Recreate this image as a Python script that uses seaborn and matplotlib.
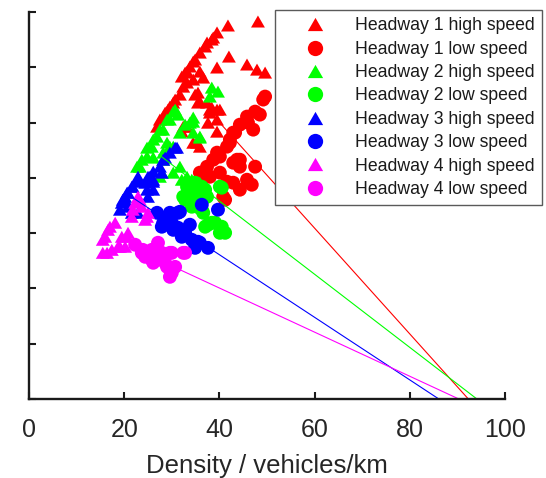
import matplotlib
matplotlib.use("Agg")
import matplotlib.pyplot as plt
import numpy as np
import pandas as pd
import seaborn as sns

# Density (vehicles/km) and flow (vehicles/h) per headway and speed regime
h1_high_k = [41.8, 48.1, 39.5, 38.7, 37.4, 35.9, 42.0, 34.5, 39.5, 45.8, 47.9, 49.6, 33.2,
             32.1, 35.9, 36.6, 32.4, 31.7, 30.7, 29.6, 28.6, 27.5, 26.9, 34.9, 35.9, 38.0,
             39.5, 37.6, 39.5, 35.3, 35.9, 32.1, 33.2, 38.4, 37.0, 34.9, 33.8, 32.8, 33.2,
             35.5, 35.5, 38.4, 40.1, 34.5, 30.3, 29.2, 28.2, 38.0, 39.5, 32.4, 34.5, 37.4]
h1_high_q = [3378, 3414, 3315, 3269, 3224, 3133, 3097, 3052, 2998, 3025, 2979, 2952, 2961,
             2916, 2961, 2907, 2825, 2753, 2708, 2644, 2590, 2527, 2463, 2753, 2690, 2617,
             2617, 2499, 2418, 2318, 2282, 2418, 2463, 3251, 3188, 3070, 3007, 2952, 2862,
             2771, 2681, 2635, 2617, 2889, 2681, 2617, 2554, 2590, 2527, 2463, 2318, 2681]

h1_low_k = [49.6, 49.2, 47.5, 48.5, 46.0, 47.1, 44.3, 42.9, 42.2, 41.6, 47.5, 39.5, 38.7,
            37.4, 35.9, 42.9, 44.3, 45.8, 46.8, 42.9, 44.3, 41.6, 41.2, 38.0, 40.1, 43.7,
            40.1, 43.3, 40.8, 36.6, 45.8, 42.2, 44.3, 37.0]
h1_low_q = [2735, 2708, 2599, 2572, 2499, 2436, 2481, 2409, 2346, 2282, 2101, 2228, 2164,
            2101, 2047, 2137, 2164, 1983, 1938, 1956, 1893, 1965, 1802, 2010, 2047, 2164,
            2192, 2409, 1829, 2047, 2554, 2318, 2101, 2029]

h2_high_k = [38.4, 39.7, 38.0, 30.7, 29.0, 27.5, 26.1, 24.8, 23.7, 22.7, 32.8, 34.5, 34.5,
             35.9, 31.7, 30.3, 29.0, 28.2, 27.9, 30.3, 32.1, 34.2, 26.1, 30.3, 31.3, 29.6,
             28.2, 26.9, 25.8, 24.8, 23.3, 28.2, 29.6, 33.8, 35.9, 27.5, 31.7, 33.2, 35.9, 34.5]
h2_high_q = [2816, 2780, 2735, 2617, 2527, 2436, 2346, 2273, 2164, 2101, 2481, 2508, 2409,
             2373, 2409, 2282, 2318, 2164, 2047, 2047, 1983, 1983, 2183, 2599, 2572, 2527,
             2436, 2373, 2282, 2192, 2101, 2228, 2282, 2499, 2364, 2010, 2101, 2010, 1956, 2545]

h2_low_k = [34.9, 33.4, 32.8, 34.2, 36.3, 35.5, 37.0, 40.5, 38.4, 40.5, 41.2, 37.0, 33.2,
            34.5, 36.3, 37.4, 35.3, 36.6, 37.6, 39.1, 40.1, 40.1, 32.4, 35.3]
h2_low_q = [1956, 1866, 1802, 1739, 1712, 1829, 1893, 1911, 1594, 1558, 1503, 1558, 1920,
            1829, 1920, 1829, 1739, 1684, 1576, 1594, 1503, 1920, 1829, 1866]

h3_high_k = [31.1, 29.6, 28.2, 27.5, 26.1, 23.3, 21.8, 20.8, 19.7, 19.1, 25.0, 26.1, 30.7,
             28.6, 26.1, 25.4, 24.4, 22.9, 20.6, 26.1, 20.2, 22.9, 21.6, 20.2, 19.5, 20.8,
             24.8, 25.0, 27.9, 21.6, 22.9]
h3_high_q = [2273, 2228, 2164, 2101, 1983, 1965, 1920, 1866, 1802, 1712, 1829, 1965, 2273,
             2183, 2056, 2010, 1956, 1983, 1866, 1893, 1802, 2010, 1920, 1829, 1775, 1739,
             1893, 2010, 2047, 1684, 1684]

h3_low_k = [36.3, 39.7, 31.3, 28.6, 30.0, 31.3, 32.8, 34.2, 35.5, 37.6, 27.9, 32.1, 34.9,
            31.7, 29.0, 28.2, 30.3, 35.9, 26.9, 29.6, 33.8]
h3_low_q = [1757, 1712, 1684, 1621, 1594, 1549, 1503, 1440, 1422, 1367, 1558, 1467, 1367,
            1693, 1648, 1594, 1530, 1413, 1684, 1684, 1576]

h4_high_k = [22.9, 22.3, 23.7, 25.0, 21.6, 18.1, 16.6, 16.0, 15.5, 17.4, 19.5, 20.8, 18.7,
             20.2, 24.4, 23.3, 21.8, 24.8, 17.0, 15.5, 16.4, 19.1, 20.6]
h4_high_q = [1829, 1775, 1739, 1684, 1648, 1594, 1530, 1467, 1322, 1349, 1467, 1503, 1377,
             1377, 1621, 1802, 1712, 1648, 1558, 1440, 1322, 1377, 1467]

h4_low_k = [27.1, 25.8, 23.7, 27.9, 30.0, 32.8, 25.8, 28.6, 30.7, 30.0, 24.4, 23.9, 29.6,
            32.4, 26.1, 29.0, 29.6, 27.5, 22.3]
h4_low_q = [1413, 1349, 1322, 1322, 1322, 1322, 1259, 1232, 1195, 1141, 1286, 1349, 1322,
            1322, 1232, 1195, 1105, 1286, 1395]

# Congested-branch lines: (critical density, flow) to (jam density, 0)
line_k_start = [39.1, 27.3, 21.8, 25.4]
line_q_start = [2545, 2210, 1820, 1295]
line_k_jam = [92.3, 94.1, 86.1, 90.3]

series_names = ["Headway 1 high speed", "Headway 1 low speed",
                "Headway 2 high speed", "Headway 2 low speed",
                "Headway 3 high speed", "Headway 3 low speed",
                "Headway 4 high speed", "Headway 4 low speed"]
headway_colors = ["#ff0000", "#00ff00", "#0000ff", "#ff00ff"]

series_data = [(h1_high_k, h1_high_q), (h1_low_k, h1_low_q),
               (h2_high_k, h2_high_q), (h2_low_k, h2_low_q),
               (h3_high_k, h3_high_q), (h3_low_k, h3_low_q),
               (h4_high_k, h4_high_q), (h4_low_k, h4_low_q)]

frames = []
for name, (k, q) in zip(series_names, series_data):
    frames.append(pd.DataFrame({"density": k, "flow": q, "series": name}))
df = pd.concat(frames, ignore_index=True)

sns.set_theme(style="ticks")
plt.rcParams["font.family"] = ["Liberation Sans", "DejaVu Sans"]

# equilateral triangle marker
tri = [(-1.0, -0.866), (1.0, -0.866), (0.0, 0.866)]
palette = {}
markers = {}
for i, name in enumerate(series_names):
    palette[name] = headway_colors[i // 2]
    markers[name] = tri if i % 2 == 0 else "o"

fig = plt.figure(figsize=(5.46, 4.78), dpi=100)
ax = fig.add_axes([29 / 546, 1 - 399 / 478, 476 / 546, 387 / 478])

sns.scatterplot(data=df, x="density", y="flow", hue="series", style="series",
                hue_order=series_names, style_order=series_names,
                palette=palette, markers=markers, s=100, linewidth=0,
                alpha=1, ax=ax, legend=True)

for i in range(4):
    seg = pd.DataFrame({"density": [line_k_start[i], line_k_jam[i]],
                        "flow": [line_q_start[i], 0]})
    sns.lineplot(data=seg, x="density", y="flow", sort=False, color=headway_colors[i],
                 linewidth=0.8, ax=ax, legend=False)

ax.set_xlim(0, 100)
ax.set_ylim(0, 3500)
ax.set_xticks(np.arange(0, 101, 20))
ax.set_yticks(np.arange(0, 3501, 500))
ax.tick_params(axis="both", direction="in", length=5, width=1.5, colors="#1a1a1a",
               labelsize=18, labelcolor="#262626")
ax.tick_params(axis="x", pad=14)
ax.tick_params(axis="y", labelleft=False)
ax.set_ylabel("")
ax.set_xlabel("Density / vehicles/km", fontsize=18.5, color="#262626", labelpad=8)
for side in ("top", "right"):
    ax.spines[side].set_visible(False)
for side in ("left", "bottom"):
    ax.spines[side].set_linewidth(1.7)
    ax.spines[side].set_color("#1a1a1a")

handles, labels = ax.get_legend_handles_labels()
for h in handles:
    h.set_markersize(11)
leg = ax.legend(handles, labels, loc="upper left",
                bbox_to_anchor=(275 / 546, 1 - 10 / 478), bbox_transform=fig.transFigure,
                fontsize=12.7, handlelength=3.75, handletextpad=0.35, borderpad=0.42,
                labelspacing=0.36, borderaxespad=0, frameon=True, fancybox=False,
                framealpha=1, edgecolor="#5a5a5a")
leg.get_frame().set_linewidth(1.0)
for t in leg.get_texts():
    t.set_color("#1a1a1a")

fig.savefig("out.png", dpi=100)
